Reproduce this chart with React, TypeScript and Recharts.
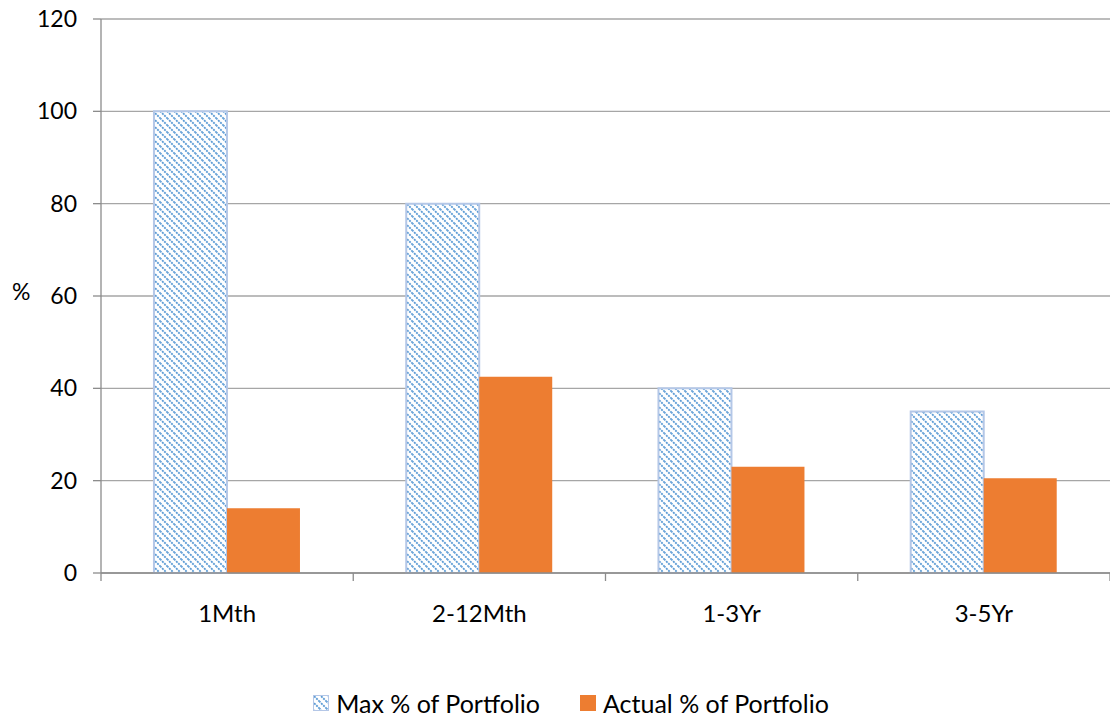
import { BarChart, Bar, XAxis, YAxis, CartesianGrid, Legend } from 'recharts';

const categories = ['1Mth', '2-12Mth', '1-3Yr', '3-5Yr'];
const maxPortfolio = [100, 80, 40, 35];
const actualPortfolio = [14, 42.5, 23, 20.5];
const yTicks = [0, 20, 40, 60, 80, 100, 120];

const chartData = categories.map((name, i) => ({
  name,
  max: maxPortfolio[i],
  actual: actualPortfolio[i],
}));

const FONT = 'Lato, "Open Sans", sans-serif';
const AXIS = '#8c8c8c';
const GRID = '#a6a6a6';
const BLUE = '#5b9bd5';
const ORANGE = '#ed7d31';

// x-axis ticks: label in the middle, tick marks on category borders like Excel
function CategoryTick(props: any) {
  const { x, y, payload, index } = props;
  const half = payload.offset ?? 0;
  return (
    <g>
      <line x1={x - half} x2={x - half} y1={y - 8} y2={y} stroke={AXIS} strokeWidth={1.3} />
      {index === categories.length - 1 && (
        <line x1={x + half} x2={x + half} y1={y - 8} y2={y} stroke={AXIS} strokeWidth={1.3} />
      )}
      <text x={x} y={y + 41} textAnchor="middle" fontSize={24} fontFamily={FONT} fill="#000">
        {payload.value}
      </text>
    </g>
  );
}

function LegendContent() {
  const items = [
    { label: 'Max % of Portfolio', fill: 'url(#hatch)', stroke: '#b4c7e7' },
    { label: 'Actual % of Portfolio', fill: ORANGE, stroke: ORANGE },
  ];
  return (
    <div style={{ display: 'flex', justifyContent: 'center', gap: 40, paddingLeft: 32, fontFamily: FONT, fontSize: 25 }}>
      {items.map((it) => (
        <div key={it.label} style={{ display: 'flex', alignItems: 'center' }}>
          <svg width={17} height={17} style={{ marginRight: 6 }}>
            <rect x={0.5} y={0.5} width={15} height={15} fill={it.fill} stroke={it.stroke} />
          </svg>
          <span>{it.label}</span>
        </div>
      ))}
    </div>
  );
}

export default function App() {
  return (
    <div style={{ position: 'absolute', left: 0, top: 0, background: '#fff' }}>
      <BarChart
        width={1110}
        height={722}
        data={chartData}
        margin={{ top: 19, right: 0, bottom: 0, left: 0 }}
        barCategoryGap="21%"
        barGap={0}
      >
        <defs>
          <pattern id="hatch" patternUnits="userSpaceOnUse" width={7} height={7}>
            <rect width={7} height={7} fill="#fff" />
            <path d="M-1,-1 L8,8 M-1,6 L1,8 M6,-1 L8,1" stroke={BLUE} strokeWidth={1.8} strokeDasharray="2 1" />
          </pattern>
        </defs>
        <CartesianGrid vertical={false} stroke={GRID} strokeWidth={1.3} />
        <XAxis
          dataKey="name"
          stroke={AXIS}
          strokeWidth={1.3}
          tickLine={false}
          tick={<CategoryTick />}
          height={119}
          interval={0}
        />
        <YAxis
          domain={[0, 120]}
          ticks={yTicks}
          width={101}
          stroke={AXIS}
          strokeWidth={1.3}
          tickSize={8}
          tickMargin={16}
          tick={{ fill: '#000', fontSize: 23, fontFamily: FONT }}
          label={{ value: '%', position: 'insideLeft', offset: 12, dy: -4, fill: '#000', fontSize: 23, fontFamily: FONT }}
        />
        <Bar dataKey="max" name="Max % of Portfolio" fill="url(#hatch)" stroke="#b4c7e7" strokeWidth={2} isAnimationActive={false} />
        <Bar dataKey="actual" name="Actual % of Portfolio" fill={ORANGE} isAnimationActive={false} />
        <Legend verticalAlign="bottom" height={30} wrapperStyle={{ bottom: 4 }} content={<LegendContent />} />
      </BarChart>
    </div>
  );
}
